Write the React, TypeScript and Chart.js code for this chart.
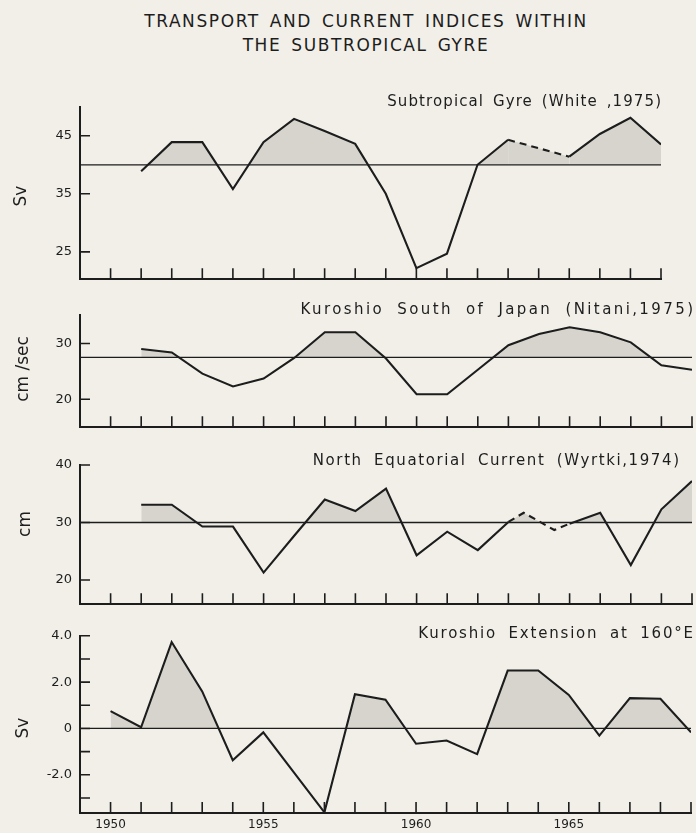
import React, { useEffect, useRef } from 'react';
import { Chart, registerables } from 'chart.js';

Chart.register(...registerables);

const INK = '#1d1d1d';
const PAPER = '#f1efe8';
const SHADE = '#d6d4cd';
const FONT = '"DejaVu Sans", "Liberation Sans", sans-serif';

// ---------- data ----------
const YEAR_TICKS = [1950, 1951, 1952, 1953, 1954, 1955, 1956, 1957, 1958, 1959, 1960, 1961, 1962, 1963, 1964, 1965, 1966, 1967, 1968, 1969];
const YEAR_LABELS = [1950, 1955, 1960, 1965];

// Subtropical Gyre (White, 1975), Sv — 1964 missing (dashed)
const GYRE_YEARS = [1951, 1952, 1953, 1954, 1955, 1956, 1957, 1958, 1959, 1960, 1961, 1962, 1963, 1964, 1965, 1966, 1967, 1968];
const GYRE_SV = [38.9, 43.9, 43.9, 35.8, 43.9, 47.9, 45.8, 43.6, 35.0, 22.2, 24.7, 40.0, 44.3, null, 41.4, 45.3, 48.1, 43.5];
const GYRE_MEAN = 40;
const GYRE_Y_TICKS = [25, 35, 45];

// Kuroshio South of Japan (Nitani, 1975), cm/sec
const KURO_YEARS = [1951, 1952, 1953, 1954, 1955, 1956, 1957, 1958, 1959, 1960, 1961, 1962, 1963, 1964, 1965, 1966, 1967, 1968, 1969];
const KURO_CMS = [29.0, 28.4, 24.6, 22.3, 23.7, 27.4, 32.0, 32.0, 27.3, 20.9, 20.9, 25.3, 29.7, 31.7, 32.9, 32.0, 30.2, 26.1, 25.3];
const KURO_MEAN = 27.5;
const KURO_Y_TICKS = [20, 30];

// North Equatorial Current (Wyrtki, 1974), cm — 1963-1965 dashed
const NEC_YEARS = [1951, 1952, 1953, 1954, 1955, 1956, 1957, 1958, 1959, 1960, 1961, 1962, 1963, 1963.5, 1964.5, 1965, 1966, 1967, 1968, 1969];
const NEC_CM = [33.1, 33.1, 29.3, 29.3, 21.3, 27.7, 34.0, 32.0, 35.9, 24.3, 28.4, 25.2, 30.1, 31.7, 28.7, 29.8, 31.7, 22.6, 32.3, 37.2];
const NEC_MEAN = 30;
const NEC_Y_TICKS = [20, 30, 40];
const NEC_DASHED = [1963, 1965];

// Kuroshio Extension at 160°E, Sv
const KE_YEARS = [1950, 1951, 1952, 1953, 1954, 1955, 1956, 1957, 1958, 1959, 1960, 1961, 1962, 1963, 1964, 1965, 1966, 1967, 1968, 1969];
const KE_SV = [0.75, 0.05, 3.73, 1.6, -1.37, -0.17, -1.9, -3.62, 1.48, 1.24, -0.66, -0.52, -1.11, 2.5, 2.5, 1.45, -0.31, 1.31, 1.28, -0.17];
const KE_MEAN = 0;
const KE_Y_TICKS = [-3, -2, -1, 0, 1, 2, 3, 4];
const KE_Y_LABELED = [-2, 0, 2, 4];

const X_MIN = 1949;

// ---------- layout of panels ----------
type PanelCfg = {
  label: string;
  years: number[];
  values: (number | null)[];
  mean: number;
  yTicks: number[];
  yFmt: (v: number) => string;
  yMin: number;
  yMax: number;
  xMax: number;
  dash: number[] | null;
  top: number;
  height: number;
  padTop: number;
  padBottom: number;
  right: number;
  xHeight: number;
  showYears: boolean;
};

const plain = (v: number) => String(v);

const PANELS: PanelCfg[] = [
  {
    label: 'Subtropical Gyre', years: GYRE_YEARS, values: GYRE_SV, mean: GYRE_MEAN,
    yTicks: GYRE_Y_TICKS, yFmt: plain, yMin: 20.3, yMax: 50, xMax: 1968, dash: null,
    top: 90, height: 205, padTop: 16.7, padBottom: 10, right: 661, xHeight: 0, showYears: false,
  },
  {
    label: 'Kuroshio South of Japan', years: KURO_YEARS, values: KURO_CMS, mean: KURO_MEAN,
    yTicks: KURO_Y_TICKS, yFmt: plain, yMin: 15, yMax: 35.1, xMax: 1969, dash: null,
    top: 296, height: 147, padTop: 19, padBottom: 10.3, right: 692, xHeight: 0, showYears: false,
  },
  {
    label: 'North Equatorial Current', years: NEC_YEARS, values: NEC_CM, mean: NEC_MEAN,
    yTicks: NEC_Y_TICKS, yFmt: plain, yMin: 15.8, yMax: 40, xMax: 1969, dash: NEC_DASHED,
    top: 444, height: 176, padTop: 21, padBottom: 10, right: 692, xHeight: 0, showYears: false,
  },
  {
    label: 'Kuroshio Extension', years: KE_YEARS, values: KE_SV, mean: KE_MEAN,
    yTicks: KE_Y_TICKS,
    yFmt: (v: number) => (KE_Y_LABELED.includes(v) ? (v === 0 ? '0' : v.toFixed(1)) : ''),
    yMin: -3.65, yMax: 4, xMax: 1969, dash: null,
    top: 620, height: 213, padTop: 13, padBottom: 0, right: 692, xHeight: 20, showYears: true,
  },
];

const inwardTicks = {
  id: 'inwardTicks',
  afterDatasetsDraw(chart: any, _args: any, opts: any) {
    const { ctx, chartArea: a, scales } = chart;
    const xs = scales.x;
    const ys = scales.y;
    ctx.save();
    ctx.strokeStyle = INK;
    ctx.lineWidth = 1.6;
    ctx.beginPath();
    for (const t of xs.ticks) {
      const px = xs.getPixelForValue(t.value);
      ctx.moveTo(px, a.bottom);
      ctx.lineTo(px, a.bottom - opts.xLen);
    }
    for (const t of ys.ticks) {
      const py = ys.getPixelForValue(t.value);
      ctx.moveTo(a.left, py);
      ctx.lineTo(a.left + opts.yLen, py);
    }
    ctx.stroke();
    ctx.restore();
  },
};

function Panel({ cfg }: { cfg: PanelCfg }) {
  const ref = useRef<HTMLCanvasElement>(null);
  useEffect(() => {
    const canvas = ref.current!;
    const xTicks = YEAR_TICKS.filter((y) => y <= cfg.xMax);
    const dashed = (ctx: any) => {
      if (ctx.p0.skip || ctx.p1.skip) return true;
      if (cfg.dash) {
        return ctx.p0.parsed.x >= cfg.dash[0] && ctx.p1.parsed.x <= cfg.dash[1];
      }
      return false;
    };
    const chart = new Chart(canvas, {
      type: 'line',
      data: {
        datasets: [
          {
            label: 'mean',
            data: [{ x: X_MIN, y: cfg.mean }, { x: cfg.xMax, y: cfg.mean }],
            borderColor: INK,
            borderWidth: 1.3,
            pointRadius: 0,
            fill: false,
          },
          {
            label: cfg.label,
            data: cfg.years.map((x, i) => ({ x, y: cfg.values[i] })),
            borderColor: INK,
            borderWidth: 2.1,
            pointRadius: 0,
            tension: 0,
            spanGaps: true,
            fill: { target: { value: cfg.mean }, above: SHADE, below: 'rgba(0,0,0,0)' },
            segment: {
              borderDash: (ctx: any) => (dashed(ctx) ? [7, 5] : undefined),
            },
          },
        ],
      } as any,
      options: {
        responsive: false,
        animation: false,
        events: [],
        layout: { padding: { top: cfg.padTop, bottom: cfg.padBottom, left: 0, right: 696 - cfg.right } },
        plugins: {
          legend: { display: false },
          tooltip: { enabled: false },
          filler: { drawTime: 'beforeDatasetsDraw' },
          inwardTicks: { xLen: 11, yLen: 10 },
        } as any,
        scales: {
          x: {
            type: 'linear',
            min: X_MIN,
            max: cfg.xMax,
            afterBuildTicks: (s: any) => {
              s.ticks = xTicks.map((v) => ({ value: v }));
            },
            afterFit: (s: any) => {
              s.height = cfg.xHeight;
            },
            grid: { display: false, drawTicks: false },
            border: { display: true, color: INK, width: 2 },
            ticks: {
              display: cfg.showYears,
              autoSkip: false,
              maxRotation: 0,
              padding: 5,
              color: INK,
              font: { family: FONT, size: 12 },
              callback: (v: any) => (YEAR_LABELS.includes(v) ? String(v) : ''),
            },
          },
          y: {
            type: 'linear',
            min: cfg.yMin,
            max: cfg.yMax,
            afterBuildTicks: (s: any) => {
              s.ticks = cfg.yTicks.map((v) => ({ value: v }));
            },
            afterFit: (s: any) => {
              s.width = 80;
            },
            grid: { display: false, drawTicks: false },
            border: { display: true, color: INK, width: 2 },
            ticks: {
              autoSkip: false,
              padding: 8,
              color: INK,
              font: { family: FONT, size: 13 },
              callback: (v: any) => cfg.yFmt(v),
            },
          },
        },
      } as any,
      plugins: [inwardTicks as any],
    });
    return () => chart.destroy();
  }, [cfg]);
  return (
    <canvas
      ref={ref}
      width={696}
      height={cfg.height}
      style={{ position: 'absolute', left: 0, top: cfg.top, width: 696, height: cfg.height }}
    />
  );
}

const PANEL_TITLES = [
  { text: 'Subtropical Gyre (White ,1975)', right: 661, top: 92, ls: 1.1, ws: 3 },
  { text: 'Kuroshio South of Japan (Nitani,1975)', right: 693, top: 299.5, ls: 2.4, ws: 6 },
  { text: 'North Equatorial Current (Wyrtki,1974)', right: 679, top: 450.5, ls: 1.6, ws: 5 },
  { text: 'Kuroshio Extension at 160°E', right: 693, top: 624, ls: 1.8, ws: 5 },
];

const AXIS_TITLES = [
  { text: 'Sv', cx: 20, cy: 196 },
  { text: 'cm /sec', cx: 22, cy: 369 },
  { text: 'cm', cx: 24, cy: 524 },
  { text: 'Sv', cx: 22, cy: 728 },
];

export default function App() {
  return (
    <div
      style={{
        position: 'absolute',
        left: 0,
        top: 0,
        width: 696,
        height: 833,
        background: PAPER,
        overflow: 'hidden',
        fontFamily: FONT,
        color: INK,
      }}
    >
      <div
        style={{
          position: 'absolute', left: 66, width: 600, top: 10.5, textAlign: 'center',
          fontSize: 17, letterSpacing: '1.6px', wordSpacing: '3px', lineHeight: '20px', whiteSpace: 'nowrap',
        }}
      >
        TRANSPORT AND CURRENT INDICES WITHIN
      </div>
      <div
        style={{
          position: 'absolute', left: 66, width: 600, top: 35, textAlign: 'center',
          fontSize: 17, letterSpacing: '1.6px', wordSpacing: '3px', lineHeight: '20px', whiteSpace: 'nowrap',
        }}
      >
        THE SUBTROPICAL GYRE
      </div>
      {PANELS.map((p) => (
        <Panel key={p.label} cfg={p} />
      ))}
      {PANEL_TITLES.map((t) => (
        <div
          key={t.text}
          style={{
            position: 'absolute', right: 696 - t.right - t.ls, top: t.top, fontSize: 15,
            letterSpacing: `${t.ls}px`, wordSpacing: `${t.ws}px`, lineHeight: '18px', whiteSpace: 'nowrap',
          }}
        >
          {t.text}
        </div>
      ))}
      {AXIS_TITLES.map((t, i) => (
        <div
          key={i}
          style={{
            position: 'absolute', left: t.cx, top: t.cy, fontSize: 17, lineHeight: '20px', whiteSpace: 'nowrap',
            transform: 'translate(-50%, -50%) rotate(-90deg)',
          }}
        >
          {t.text}
        </div>
      ))}
    </div>
  );
}
